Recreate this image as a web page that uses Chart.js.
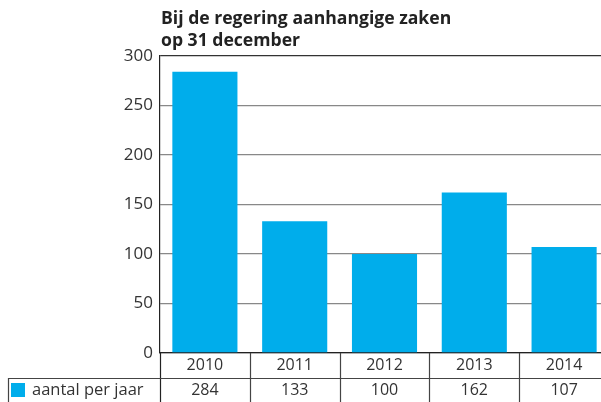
<!DOCTYPE html>
<html>
<head>
<meta charset="utf-8">
<script src="https://cdn.jsdelivr.net/npm/chart.js@4/dist/chart.umd.min.js"></script>
<style>
  html, body { margin: 0; padding: 0; background: #fff; overflow: hidden; width: 601px; height: 402px; }
  #wrap { position: relative; width: 609px; height: 402px; }
</style>
</head>
<body>
<div id="wrap"><canvas id="c" width="609" height="402"></canvas></div>
<script>
const categories = ['2010', '2011', '2012', '2013', '2014'];
const values = [284, 133, 100, 162, 107];
const yTicks = [0, 50, 100, 150, 200, 250, 300];
const titleLines = ['Bij de regering aanhangige zaken', 'op 31 december'];
const seriesName = 'aantal per jaar';

const BLUE = '#00adeb';
const TEXT = '#333333';
const FONT = '"Open Sans", "Noto Sans", sans-serif';

const tablePlugin = {
  id: 'tablePlugin',
  afterDraw(chart) {
    const ctx = chart.ctx;
    const x = chart.scales.x;
    const area = chart.chartArea;
    const H = chart.height;
    const rowMid = area.bottom + 25;
    ctx.save();
    // title
    ctx.fillStyle = '#222';
    ctx.font = 'bold 17.6px ' + FONT;
    ctx.textAlign = 'left';
    ctx.textBaseline = 'alphabetic';
    ctx.fillText(titleLines[0], area.left + 1, 24);
    ctx.fillText(titleLines[1], area.left + 1, 46);

    // axis line extended down through table
    ctx.strokeStyle = '#222';
    ctx.lineWidth = 1.2;
    ctx.beginPath();
    ctx.moveTo(area.left + 0.5, area.bottom);
    ctx.lineTo(area.left + 0.5, H);
    ctx.stroke();

    // row separator
    ctx.strokeStyle = '#444';
    ctx.lineWidth = 1.2;
    ctx.beginPath();
    ctx.moveTo(8, rowMid + 0.5);
    ctx.lineTo(chart.width, rowMid + 0.5);
    ctx.stroke();
    // left border of legend cell
    ctx.beginPath();
    ctx.moveTo(8.5, rowMid);
    ctx.lineTo(8.5, H);
    ctx.stroke();

    // vertical separators between categories
    for (let i = 1; i < categories.length; i++) {
      const px = (x.getPixelForValue(i - 1) + x.getPixelForValue(i)) / 2;
      ctx.beginPath();
      ctx.moveTo(Math.round(px) + 0.5, area.bottom);
      ctx.lineTo(Math.round(px) + 0.5, H);
      ctx.stroke();
    }

    // category labels and values
    ctx.fillStyle = TEXT;
    ctx.font = '16px ' + FONT;
    ctx.textAlign = 'center';
    ctx.textBaseline = 'middle';
    categories.forEach((c, i) => {
      const px = x.getPixelForValue(i);
      ctx.fillText(c, px, area.bottom + 12);
      ctx.fillText(String(values[i]), px, rowMid + 12);
    });

    // legend
    ctx.fillStyle = BLUE;
    ctx.fillRect(11, 383, 14, 14);
    ctx.fillStyle = TEXT;
    ctx.font = '16.5px ' + FONT;
    ctx.textAlign = 'left';
    ctx.fillText(seriesName, 32, rowMid + 12);
    ctx.restore();
  }
};

new Chart(document.getElementById('c'), {
  type: 'bar',
  data: {
    labels: categories,
    datasets: [{
      label: seriesName,
      data: values,
      backgroundColor: BLUE,
      borderWidth: 0,
      barPercentage: 0.725,
      categoryPercentage: 1.0
    }]
  },
  options: {
    responsive: false,
    animation: false,
    events: [],
    layout: { padding: { top: 56, left: 0, right: 0, bottom: 0 } },
    plugins: {
      legend: { display: false },
      title: { display: false },
      tooltip: { enabled: false }
    },
    scales: {
      x: {
        ticks: { display: false },
        grid: { display: false },
        border: { display: true, color: '#222', width: 1.2 },
        afterFit(scale) { scale.height = 49; }
      },
      y: {
        min: 0,
        max: 300,
        afterBuildTicks(scale) { scale.ticks = yTicks.map(v => ({ value: v })); },
        ticks: {
          color: TEXT,
          font: { family: FONT, size: 17 },
          padding: 7,
          callback: (v) => String(v)
        },
        grid: {
          drawTicks: false,
          color: (c) => c.tick && c.tick.value === 300 ? '#333' : '#888',
          lineWidth: 1.3
        },
        border: { display: true, color: '#222', width: 1.2 },
        afterFit(scale) { scale.width = 160; }
      }
    }
  },
  plugins: [tablePlugin]
});
</script>
</body>
</html>
